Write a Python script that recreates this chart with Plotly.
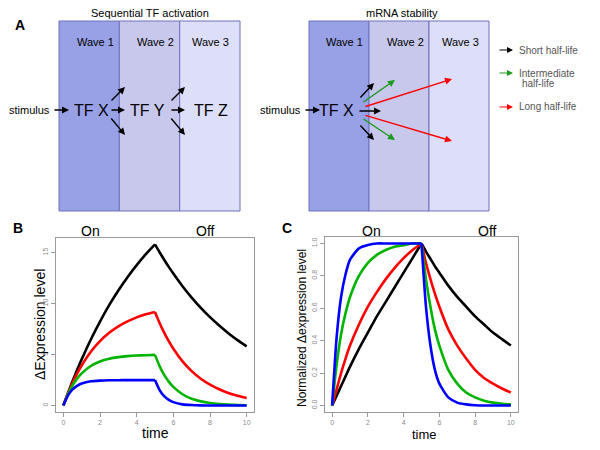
import plotly.graph_objects as go

# ---------------- data ----------------
time = [0, 0.25, 0.5, 0.75, 1, 1.5, 2, 2.5, 3, 3.5, 4, 4.5, 5,
        5.25, 5.5, 5.75, 6, 6.5, 7, 7.5, 8, 8.5, 9, 9.5, 10]
switch_off_index = 12  # t = 5, stimulus removed

# Panel B: change in expression level
b_black = [0, 1.22, 2.38, 3.48, 4.53, 6.48, 8.24, 9.84, 11.28, 12.59, 13.77, 14.84, 15.80,
           15.03, 14.30, 13.60, 12.94, 11.70, 10.59, 9.58, 8.67, 7.85, 7.10, 6.42, 5.81]
b_red = [0, 1.18, 2.21, 3.13, 3.93, 5.28, 6.32, 7.13, 7.77, 8.26, 8.65, 8.95, 9.18,
         8.10, 7.15, 6.31, 5.57, 4.34, 3.38, 2.63, 2.05, 1.60, 1.24, 0.97, 0.75]
b_green = [0, 1.11, 1.97, 2.64, 3.16, 3.88, 4.32, 4.59, 4.75, 4.85, 4.91, 4.94, 4.97,
           3.87, 3.01, 2.35, 1.83, 1.11, 0.67, 0.41, 0.25, 0.15, 0.09, 0.06, 0.03]
b_blue = [0, 0.98, 1.58, 1.94, 2.16, 2.38, 2.45, 2.48, 2.49, 2.50, 2.50, 2.50, 2.50,
          1.52, 0.92, 0.56, 0.34, 0.12, 0.05, 0.02, 0.01, 0.0, 0.0, 0.0, 0.0]

# Panel C: normalized change in expression level
c_black = [0, 0.06, 0.12, 0.18, 0.24, 0.35, 0.45, 0.55, 0.64, 0.73, 0.82, 0.91, 1.0,
           0.95, 0.905, 0.86, 0.82, 0.74, 0.67, 0.61, 0.55, 0.50, 0.45, 0.41, 0.37]
c_red = [0, 0.10, 0.20, 0.29, 0.37, 0.50, 0.61, 0.70, 0.78, 0.85, 0.91, 0.96, 1.0,
         0.88, 0.78, 0.69, 0.61, 0.47, 0.37, 0.29, 0.22, 0.17, 0.135, 0.105, 0.08]
c_green = [0, 0.25, 0.44, 0.57, 0.67, 0.80, 0.88, 0.93, 0.96, 0.98, 0.99, 1.0, 1.0,
           0.78, 0.61, 0.47, 0.37, 0.22, 0.135, 0.08, 0.05, 0.03, 0.018, 0.011, 0.007]
c_blue = [0, 0.42, 0.67, 0.81, 0.90, 0.97, 0.99, 1.0, 1.0, 1.0, 1.0, 1.0, 1.0,
          0.61, 0.37, 0.22, 0.135, 0.05, 0.018, 0.007, 0.002, 0.0, 0.0, 0.0, 0.0]

xticks = [0, 2, 4, 6, 8, 10]
b_yticks = [0, 5, 10, 15]
c_yticks = [0.0, 0.2, 0.4, 0.6, 0.8, 1.0]
c_yticklabels = ["0.0", "0.2", "0.4", "0.6", "0.8", "1.0"]

legend_labels = ["Short half-life", "Intermediate", "half-life", "Long half-life"]
wave_labels = ["Wave 1", "Wave 2", "Wave 3"]
tf_labels = ["TF X", "TF Y", "TF Z"]

# ---------------- styling ----------------
W, H = 600, 450
FONT = "Liberation Sans, Arial, sans-serif"
BLACK, RED, GREEN, BLUE = "#000000", "#FF0000", "#00B400", "#0000FF"
ARROW_GREEN = "#1A9A1A"
WAVE_FILLS = ["#98A0E6", "#C7C8EB", "#DDDEF8"]
BORDER = "#6E70BE"


def px(x):
    return x / W


def py(y):
    return 1 - y / H


fig = go.Figure()

series_b = [(b_black, BLACK), (b_red, RED), (b_green, GREEN), (b_blue, BLUE)]
series_c = [(c_black, BLACK), (c_red, RED), (c_green, GREEN), (c_blue, BLUE)]
k = switch_off_index
for series, xa, ya in [(series_b, "x", "y"), (series_c, "x2", "y2")]:
    for vals, col in series:
        # on phase and off phase drawn separately so the switch-off corner stays sharp
        for sl in (slice(0, k + 1), slice(k, None)):
            fig.add_trace(go.Scatter(x=time[sl], y=vals[sl], mode="lines",
                                     line=dict(color=col, width=2.6, shape="spline",
                                               smoothing=0.6),
                                     xaxis=xa, yaxis=ya, showlegend=False,
                                     hoverinfo="skip"))

axis_common = dict(showline=True, mirror=True, linecolor="#9a9a9a", linewidth=1,
                   showgrid=False, zeroline=False, ticks="outside", ticklen=4,
                   tickcolor="#9a9a9a", tickfont=dict(family=FONT, size=7, color="#8a8a8a"))

fig.update_layout(
    width=W, height=H, autosize=False,
    margin=dict(l=0, r=0, t=0, b=0),
    paper_bgcolor="white", plot_bgcolor="white",
    xaxis=dict(domain=[px(56), px(254)], range=[-0.4, 10.4], tickvals=xticks,
               anchor="y", **axis_common),
    yaxis=dict(domain=[py(412), py(238)], range=[-0.63, 16.43], tickvals=b_yticks,
               tickangle=-90, anchor="x", **axis_common),
    xaxis2=dict(domain=[px(325), px(518)], range=[-0.4, 10.4], tickvals=xticks,
                anchor="y2", **axis_common),
    yaxis2=dict(domain=[py(412), py(237)], range=[-0.04, 1.04], tickvals=c_yticks,
                ticktext=c_yticklabels, tickangle=-90, anchor="x2", **axis_common),
)

shapes = []
annotations = []


def text(x, y, s, size=11, color="black", bold=False, xanchor="center", angle=0):
    annotations.append(dict(
        x=px(x), y=py(y), xref="paper", yref="paper", text=("<b>%s</b>" % s) if bold else s,
        showarrow=False, xanchor=xanchor, yanchor="middle", textangle=angle,
        font=dict(family=FONT, size=size, color=color)))


def arrow(x0, y0, x1, y1, color="black", width=1.4):
    annotations.append(dict(
        x=px(x1), y=py(y1), xref="paper", yref="paper", ax=x0 - x1, ay=y0 - y1,
        axref="pixel", ayref="pixel", text="", showarrow=True, arrowhead=2,
        arrowsize=1.0, arrowwidth=width, arrowcolor=color))


# ---------------- Panel A ----------------
for (bx0, bx1) in [(59, 240), (309, 489)]:
    step = (bx1 - bx0) / 3
    for i in range(3):
        shapes.append(dict(type="rect", xref="paper", yref="paper",
                           x0=px(bx0 + i * step), x1=px(bx0 + (i + 1) * step),
                           y0=py(211), y1=py(21), fillcolor=WAVE_FILLS[i],
                           line=dict(color=BORDER, width=1), layer="below"))

text(150, 13, "Sequential TF activation", size=11)
text(402, 13, "mRNA stability", size=11)
text(20, 25, "A", size=14, bold=True)

for i, xc in enumerate([95, 155, 210]):
    text(xc, 42, wave_labels[i], size=11)
for i, xc in enumerate([344, 405, 460]):
    text(xc, 42, wave_labels[i], size=11)

# sequential TF activation
text(29, 110, "stimulus", size=11)
arrow(53, 110, 69, 110)
for i, xc in enumerate([91, 147, 211]):
    text(xc, 110, tf_labels[i], size=16)
for xs in [110, 170]:
    arrow(xs, 102, xs + 15, 87)
    arrow(xs, 110, xs + 15, 110)
    arrow(xs, 117, xs + 15, 135)

# mRNA stability
text(280, 110, "stimulus", size=11)
arrow(304, 110, 320, 110)
text(336, 110, "TF X", size=16)
arrow(359, 99, 374, 83, BLACK)
arrow(362, 103, 395, 80, ARROW_GREEN)
arrow(364, 107, 452, 79, RED)
arrow(358, 111, 381, 111, BLACK)
arrow(364, 115, 452, 141, RED)
arrow(362, 118, 395, 140, ARROW_GREEN)
arrow(359, 124, 374, 140, BLACK)

# legend
arrow(498, 50, 513, 50, BLACK, 1.2)
arrow(498, 73, 513, 73, ARROW_GREEN, 1.2)
arrow(498, 107, 513, 107, RED, 1.2)
text(517, 50, legend_labels[0], size=10, color="#555555", xanchor="left")
text(517, 73, legend_labels[1], size=10, color="#555555", xanchor="left")
text(520, 84, legend_labels[2], size=10, color="#555555", xanchor="left")
text(517, 107, legend_labels[3], size=10, color="#555555", xanchor="left")

# ---------------- Panels B & C labels ----------------
text(18, 228, "B", size=14, bold=True)
text(287, 228, "C", size=14, bold=True)
text(90, 231, "On", size=14)
text(205, 231, "Off", size=14)
text(371, 231, "On", size=14)
text(487, 231, "Off", size=14)
text(155, 433, "time", size=14)
text(424, 434, "time", size=13)
text(40, 325, "ΔExpression level", size=14, angle=-90)
text(302, 328, "Normalized Δexpression level", size=12, angle=-90)

fig.update_layout(shapes=shapes, annotations=annotations)

fig.write_html("out.html", config={"displayModeBar": False},
               post_script="document.body.style.margin='0';")
